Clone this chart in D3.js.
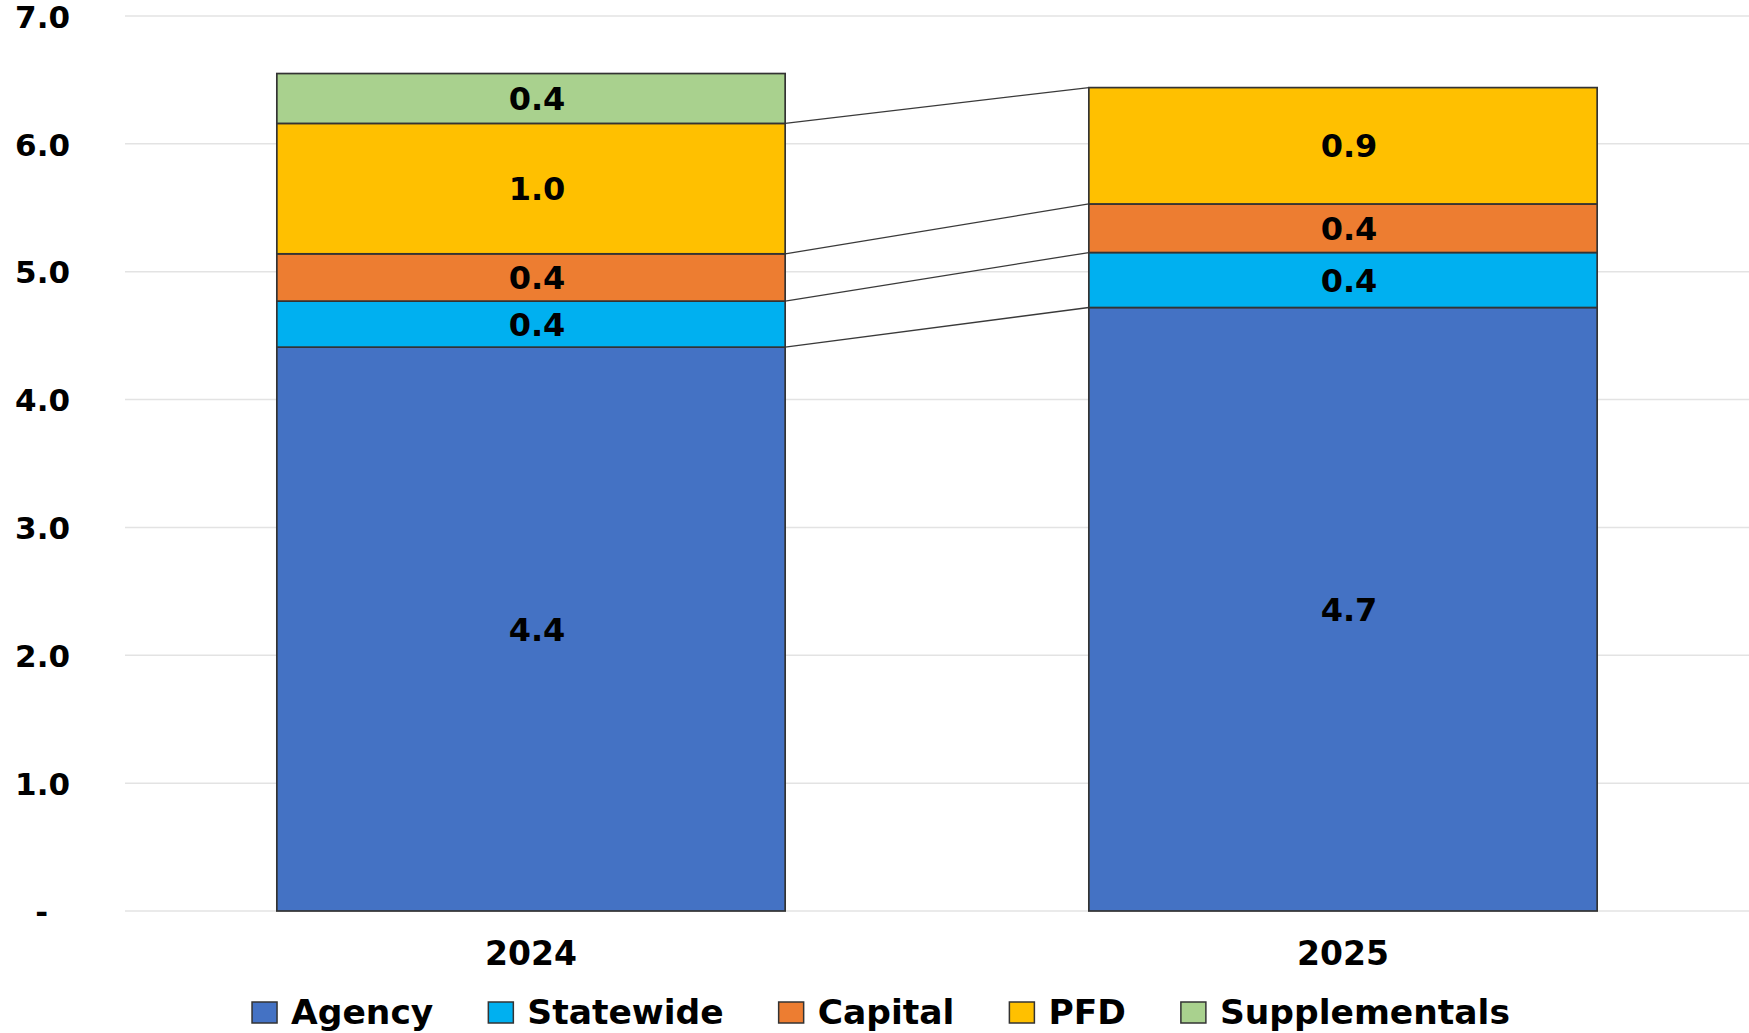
<!DOCTYPE html>
<html>
<head>
<meta charset="utf-8">
<script src="https://cdn.jsdelivr.net/npm/d3@7"></script>
<style>
  body { margin: 0; background: #fff; }
  text { font-family: "DejaVu Sans", Verdana, sans-serif; font-weight: bold; fill: #000; }
</style>
</head>
<body>
<div id="chart"></div>
<script>
/** DATA */
const years = ["2024", "2025"];
const seriesNames = ["Agency", "Statewide", "Capital", "PFD", "Supplementals"];
const agency = [4.41, 4.72];
const statewide = [0.36, 0.43];
const capital = [0.37, 0.38];
const pfd = [1.02, 0.91];
const supplementals = [0.39, 0];
const yTicks = [0, 1, 2, 3, 4, 5, 6, 7];

const colors = ["#4472C4", "#00B0F0", "#ED7D31", "#FFC000", "#A9D18E"];

/** CONSTANTS */
const width = 1749,
  height = 1033,
  margin = { top: 16, bottom: 122, left: 125, right: 0 };

// build rows for the stack
const rows = years.map((y, i) => ({
  year: y,
  Agency: agency[i],
  Statewide: statewide[i],
  Capital: capital[i],
  PFD: pfd[i],
  Supplementals: supplementals[i]
}));
const stacked = d3.stack().keys(seriesNames)(rows);

const svg = d3.select("#chart")
  .append("svg")
  .attr("width", width)
  .attr("height", height);

const xScale = d3.scaleBand()
  .domain(years)
  .range([margin.left, width - margin.right])
  .paddingInner(0.374)
  .paddingOuter(0.187);

const yScale = d3.scaleLinear()
  .domain([0, 7])
  .range([height - margin.bottom, margin.top]);

// gridlines
svg.append("g")
  .selectAll("line")
  .data(yTicks)
  .join("line")
  .attr("x1", margin.left)
  .attr("x2", width - margin.right)
  .attr("y1", d => yScale(d))
  .attr("y2", d => yScale(d))
  .attr("stroke", "#e3e3e3")
  .attr("stroke-width", 1.5);

// y axis labels
const yAxis = d3.axisLeft(yScale)
  .tickValues(yTicks)
  .tickSize(0)
  .tickFormat(d => d === 0 ? "-" : d3.format(".1f")(d));

svg.append("g")
  .attr("transform", `translate(70,0)`)
  .call(yAxis)
  .call(g => g.select(".domain").remove())
  .call(g => g.selectAll("text")
    .attr("x", d => d === 0 ? -22 : 0)
    .attr("dy", "0.36em")
    .attr("font-size", 31)
    .attr("font-family", null));

// series (connector) lines between bar tops
const bw = xScale.bandwidth();
svg.append("g")
  .selectAll("line")
  .data(stacked.filter(s => s.every(d => d[1] - d[0] > 0)))
  .join("line")
  .attr("x1", xScale(years[0]) + bw)
  .attr("x2", xScale(years[1]))
  .attr("y1", s => yScale(s[0][1]))
  .attr("y2", s => yScale(s[1][1]))
  .attr("stroke", "#3a3a3a")
  .attr("stroke-width", 1.3);

// bars
const layer = svg.append("g")
  .selectAll("g")
  .data(stacked)
  .join("g")
  .attr("fill", (s, i) => colors[i]);

layer.selectAll("rect")
  .data(s => s.filter(d => d[1] - d[0] > 0))
  .join("rect")
  .attr("x", d => xScale(d.data.year))
  .attr("width", bw)
  .attr("y", d => yScale(d[1]))
  .attr("height", d => yScale(d[0]) - yScale(d[1]))
  .attr("stroke", "#333")
  .attr("stroke-width", 1.7);

// data labels (sit a little right of centre, as in the original)
layer.selectAll("text")
  .data(s => s.filter(d => d[1] - d[0] > 0))
  .join("text")
  .attr("x", d => xScale(d.data.year) + bw / 2 + 6)
  .attr("y", d => (yScale(d[0]) + yScale(d[1])) / 2)
  .attr("dy", "0.36em")
  .attr("text-anchor", "middle")
  .attr("font-size", 32)
  .text(d => d3.format(".1f")(d[1] - d[0]));

// x axis labels
const xAxis = d3.axisBottom(xScale).tickSize(0);
svg.append("g")
  .attr("transform", `translate(0,${yScale(0)})`)
  .call(xAxis)
  .call(g => g.select(".domain").remove())
  .call(g => g.selectAll("text")
    .attr("y", 54)
    .attr("dy", 0)
    .attr("font-size", 33)
    .attr("font-family", null));

// legend
const legend = svg.append("g");
const items = legend.selectAll("g")
  .data(seriesNames)
  .join("g");
items.append("rect")
  .attr("width", 25)
  .attr("height", 21)
  .attr("y", -21)
  .attr("fill", (d, i) => colors[i])
  .attr("stroke", "#333")
  .attr("stroke-width", 1.5);
items.append("text")
  .attr("x", 39)
  .attr("y", 1)
  .attr("font-size", 34.5)
  .text(d => d);

let xpos = 0;
items.each(function () {
  const w = 39 + d3.select(this).select("text").node().getComputedTextLength();
  d3.select(this).attr("transform", `translate(${xpos},0)`);
  xpos += w + 55;
});
const legendWidth = xpos - 55;
legend.attr("transform", `translate(${881 - legendWidth / 2},1023)`);
</script>
</body>
</html>
